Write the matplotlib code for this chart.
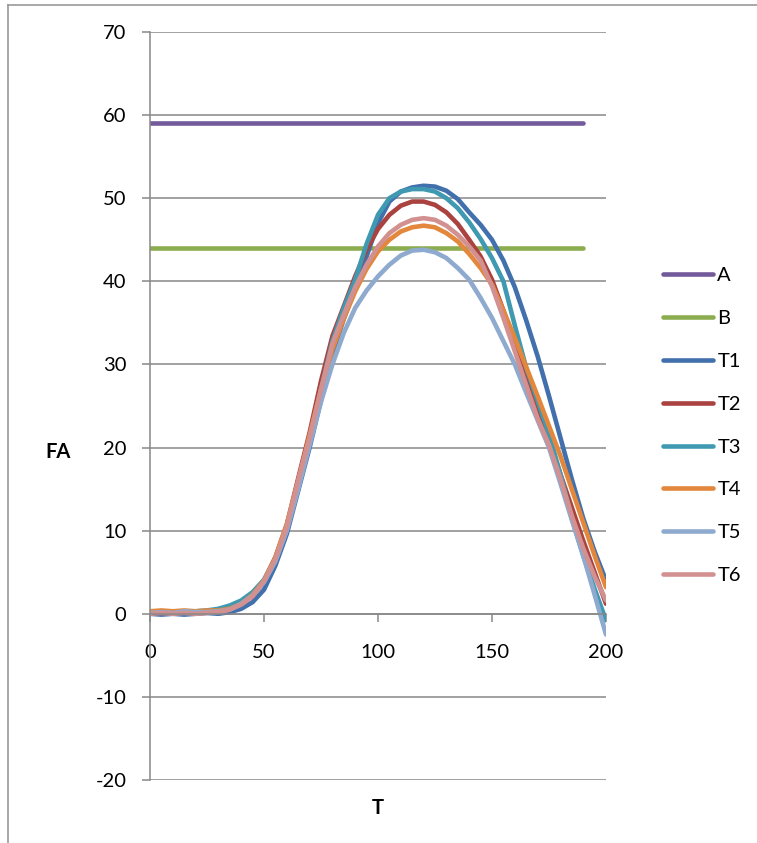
import matplotlib.pyplot as plt
from matplotlib.lines import Line2D

plt.rcParams['font.family'] = ['Lato', 'DejaVu Sans']
plt.rcParams['axes.unicode_minus'] = False

# T axis samples for the measured curves
t = list(range(0, 201, 5))

# flat reference lines
line_t = [0, 190]
a_vals = [59, 59]
b_vals = [44, 44]

t1 = [0.0, -0.1, 0.0, -0.1, 0.0, 0.1, 0.0, 0.2, 0.6, 1.4, 2.9, 5.8, 9.6, 14.8, 20.0, 25.7, 31.2,
      35.5, 39.2, 43.0, 47.0, 49.6, 50.8, 51.3, 51.5, 51.4, 50.9, 49.9, 48.3, 46.8, 45.0, 42.5,
      39.3, 35.3, 31.0, 26.2, 21.2, 16.2, 11.5, 7.5, 4.0]
t2 = [0.2, 0.1, 0.3, 0.2, 0.2, 0.3, 0.4, 0.7, 1.3, 2.3, 4.0, 6.8, 10.7, 16.3, 21.8, 28.0, 33.4,
      37.0, 40.6, 43.8, 46.3, 48.0, 49.1, 49.6, 49.6, 49.2, 48.3, 46.9, 45.0, 43.0, 40.2, 36.5,
      32.5, 28.5, 24.6, 20.8, 16.8, 12.8, 8.8, 5.0, 1.2]
t3 = [0.1, 0.2, 0.2, 0.3, 0.3, 0.4, 0.6, 1.0, 1.6, 2.6, 4.1, 6.6, 10.3, 15.8, 21.0, 27.0, 32.8,
      36.8, 40.2, 44.5, 48.0, 50.0, 50.8, 51.1, 51.1, 50.8, 50.0, 48.8, 47.1, 45.1, 42.8, 40.0,
      34.7, 29.6, 25.6, 21.6, 16.8, 11.5, 7.0, 3.0, -0.8]
t4 = [0.3, 0.4, 0.3, 0.4, 0.3, 0.4, 0.4, 0.6, 1.2, 2.3, 4.0, 6.8, 10.8, 16.0, 21.5, 27.0, 31.8,
      35.5, 38.8, 41.5, 43.6, 45.0, 46.0, 46.5, 46.7, 46.5, 45.8, 44.8, 43.3, 41.6, 39.6, 36.5,
      33.2, 29.7, 26.2, 22.6, 19.0, 15.0, 11.0, 7.0, 3.2]
t5 = [0.1, 0.2, 0.1, 0.3, 0.2, 0.2, 0.3, 0.5, 1.2, 2.2, 3.8, 6.3, 10.0, 15.0, 20.3, 25.5, 30.0,
      33.8, 36.8, 38.9, 40.6, 42.0, 43.1, 43.7, 43.8, 43.5, 42.8, 41.6, 40.2, 38.0, 35.6, 32.8,
      30.0, 26.6, 23.3, 20.0, 15.7, 11.3, 7.0, 2.3, -2.5]
t6 = [0.0, 0.1, 0.0, 0.1, 0.0, 0.1, 0.2, 0.5, 1.1, 2.1, 3.9, 6.6, 10.5, 16.0, 21.2, 27.0, 32.5,
      36.0, 39.3, 42.0, 44.2, 45.8, 46.8, 47.4, 47.6, 47.4, 46.7, 45.6, 44.2, 42.5, 39.4, 35.6,
      31.6, 27.5, 23.5, 20.3, 16.3, 11.8, 7.9, 4.5, 1.6]

fig = plt.figure(figsize=(7.57, 8.43), dpi=100)
ax = fig.add_axes([150 / 757, 1 - 780 / 843, 456 / 757, 748 / 843])

grid_col = '#888888'
lw = 3.3

ax.plot(line_t, a_vals, color='#735A9B', lw=lw, solid_capstyle='round', label='A')
ax.plot(line_t, b_vals, color='#8CAD4F', lw=lw, solid_capstyle='round', label='B')
ax.plot(t, t1, color='#4170AD', lw=lw, solid_capstyle='round', label='T1')
ax.plot(t, t2, color='#AA4340', lw=lw, solid_capstyle='round', label='T2')
ax.plot(t, t3, color='#3F99B1', lw=lw, solid_capstyle='round', label='T3')
ax.plot(t, t4, color='#E2873C', lw=lw, solid_capstyle='round', label='T4')
ax.plot(t, t5, color='#8FAACF', lw=lw, solid_capstyle='round', label='T5')
ax.plot(t, t6, color='#D29190', lw=lw, solid_capstyle='round', label='T6')

ax.set_xlim(0, 200)
ax.set_ylim(-20, 70)
ax.set_xticks(range(0, 201, 50))
ax.set_yticks(range(-20, 71, 10))

for y in range(-20, 71, 10):
    ax.axhline(y, color=grid_col, lw=1.1, zorder=0)

for s in ['top', 'right']:
    ax.spines[s].set_visible(False)
ax.spines['bottom'].set_position(('data', 0))
ax.spines['bottom'].set_color(grid_col)
ax.spines['left'].set_color(grid_col)
ax.spines['bottom'].set_linewidth(1.1)
ax.spines['left'].set_linewidth(1.1)

ax.tick_params(axis='y', direction='out', length=6, width=1.1, color=grid_col, pad=11, labelsize=14.5)
ax.tick_params(axis='x', direction='out', length=6, width=1.1, color=grid_col, pad=16, labelsize=14.5)

fig.text(58 / 757, 1 - 452 / 843, 'FA', fontsize=14.5, fontweight='bold', ha='center', va='center')
fig.text(378 / 757, 1 - 808 / 843, 'T', fontsize=14.5, fontweight='bold', ha='center', va='center')

# chart frame, cut off at right and bottom
fig.add_artist(Line2D([8 / 757, 8 / 757], [0, 1 - 5 / 843], color='#999999', lw=1.2))
fig.add_artist(Line2D([8 / 757, 1], [1 - 5 / 843, 1 - 5 / 843], color='#999999', lw=1.2))

ax.legend(loc='upper left', bbox_to_anchor=(663 / 757, 1 - 267 / 843), bbox_transform=fig.transFigure,
          frameon=False, fontsize=14.5, handlelength=2.5, handletextpad=0.2, labelspacing=1.28,
          borderpad=0, borderaxespad=0)

fig.savefig('out.png', dpi=100)
